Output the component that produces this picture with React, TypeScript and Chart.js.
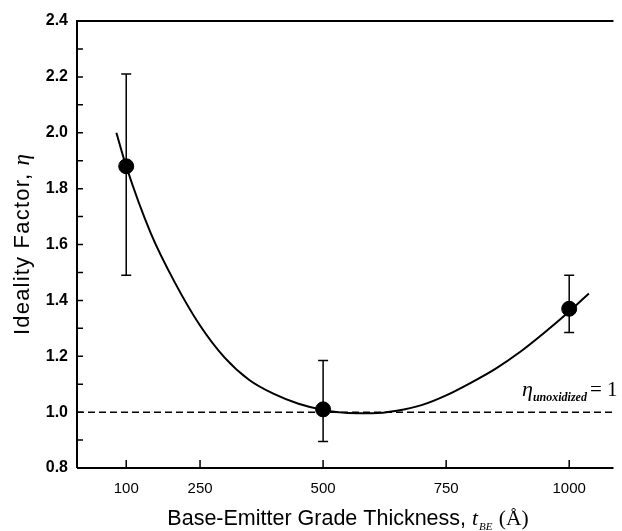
import React, { useEffect, useRef } from "react";
import { Chart, registerables } from "chart.js";

Chart.register(...registerables);

// Measured data points with error bars
const pointX = [100, 500, 1000];
const pointY = [1.88, 1.01, 1.37];
const errLow = [1.49, 0.895, 1.285];
const errHigh = [2.21, 1.185, 1.49];

// Fitted curve
const curveX = [80, 100, 150, 200, 250, 300, 350, 400, 450, 500, 550, 600, 650, 700, 750, 800, 850, 900, 950, 1000, 1040];
const curveY = [2.0, 1.88, 1.64, 1.46, 1.31, 1.195, 1.115, 1.065, 1.03, 1.008, 0.997, 0.996, 1.005, 1.025, 1.06, 1.105, 1.155, 1.215, 1.285, 1.36, 1.425];

// Reference line and ticks
const refLevel = 1.0;
const xTickValues = [100, 250, 500, 750, 1000];
const xRange = [0, 1090];
const yRange = [0.8, 2.4];

const SANS = "'Liberation Sans', Arial, Helvetica, sans-serif";
const SERIF = "'Liberation Serif', 'Times New Roman', serif";

const decorPlugin = {
  id: "decor",
  beforeDraw(chart: any) {
    const { ctx } = chart;
    ctx.save();
    ctx.fillStyle = "#fff";
    ctx.fillRect(0, 0, chart.width, chart.height);
    ctx.restore();
  },
  afterDatasetsDraw(chart: any) {
    const { ctx, scales } = chart;
    const xs = scales.x;
    const ys = scales.y;
    ctx.save();
    ctx.strokeStyle = "#000";
    ctx.lineWidth = 1.5;
    for (let i = 0; i < pointX.length; i++) {
      const px = xs.getPixelForValue(pointX[i]);
      const lo = ys.getPixelForValue(errLow[i]);
      const hi = ys.getPixelForValue(errHigh[i]);
      ctx.beginPath();
      ctx.moveTo(px, lo);
      ctx.lineTo(px, hi);
      ctx.moveTo(px - 5, lo);
      ctx.lineTo(px + 5, lo);
      ctx.moveTo(px - 5, hi);
      ctx.lineTo(px + 5, hi);
      ctx.stroke();
    }
    ctx.restore();
  },
  afterDraw(chart: any) {
    const { ctx, chartArea, scales } = chart;
    const xs = scales.x;
    const ys = scales.y;
    ctx.save();
    ctx.strokeStyle = "#000";
    ctx.lineWidth = 2;
    ctx.beginPath();
    ctx.moveTo(chartArea.left, chartArea.bottom);
    ctx.lineTo(chartArea.left, chartArea.top);
    ctx.lineTo(chartArea.right, chartArea.top);
    ctx.moveTo(chartArea.left, chartArea.bottom);
    ctx.lineTo(chartArea.right, chartArea.bottom);
    ctx.stroke();
    ctx.lineWidth = 1.5;
    ctx.beginPath();
    ys.ticks.forEach((t: any) => {
      const py = ys.getPixelForValue(t.value);
      ctx.moveTo(chartArea.left, py);
      ctx.lineTo(chartArea.left + 6, py);
    });
    xs.ticks.forEach((t: any) => {
      const px = xs.getPixelForValue(t.value);
      ctx.moveTo(px, chartArea.bottom);
      ctx.lineTo(px, chartArea.bottom - 8);
    });
    ctx.stroke();

    ctx.fillStyle = "#000";
    ctx.textBaseline = "alphabetic";
    ctx.textAlign = "left";
    // x title
    const p1 = "Base-Emitter Grade Thickness, ";
    const p2 = "t";
    const p3 = "BE";
    const p4 = " (\u00C5)";
    const f1 = `21.5px ${SANS}`;
    const f2 = `italic 21.5px ${SERIF}`;
    const f3 = `italic 11px ${SERIF}`;
    const f4 = `21.5px ${SERIF}`;
    ctx.font = f1; const w1 = ctx.measureText(p1).width;
    ctx.font = f2; const w2 = ctx.measureText(p2).width;
    ctx.font = f3; const w3 = ctx.measureText(p3).width;
    ctx.font = f4; const w4 = ctx.measureText(p4).width;
    const total = w1 + w2 + w3 + 2 + w4;
    let x0 = 348 - total / 2;
    const by = 525;
    ctx.font = f1; ctx.fillText(p1, x0, by); x0 += w1;
    ctx.font = f2; ctx.fillText(p2, x0, by); x0 += w2 + 1;
    ctx.font = f3; ctx.fillText(p3, x0, by + 5); x0 += w3 + 1;
    ctx.font = f4; ctx.fillText(p4, x0, by);

    // y title
    const q1 = "Ideality Factor, ";
    const q2 = "\u03B7";
    const g1 = `22px ${SANS}`;
    const g2 = `italic 23px ${SERIF}`;
    ctx.save();
    (ctx as any).letterSpacing = "1.2px";
    ctx.font = g1; const v1 = ctx.measureText(q1).width;
    (ctx as any).letterSpacing = "0px";
    ctx.font = g2; const v2 = ctx.measureText(q2).width;
    ctx.translate(29, (chartArea.top + chartArea.bottom) / 2);
    ctx.rotate(-Math.PI / 2);
    let yx = -(v1 + v2) / 2;
    (ctx as any).letterSpacing = "1.2px";
    ctx.font = g1; ctx.fillText(q1, yx, 0); yx += v1;
    (ctx as any).letterSpacing = "0px";
    ctx.font = g2; ctx.fillText(q2, yx, 0);
    ctx.restore();

    // annotation
    const ay = ys.getPixelForValue(refLevel) - 16;
    let ax = 522;
    ctx.font = `italic 22px ${SERIF}`;
    ctx.fillText("\u03B7", ax, ay);
    ax += ctx.measureText("\u03B7").width;
    ctx.font = `italic bold 12px ${SERIF}`;
    ctx.fillText("unoxidized", ax, ay + 5);
    ax += ctx.measureText("unoxidized").width + 3;
    ctx.font = `21px ${SERIF}`;
    ctx.fillText("= 1", ax, ay);
    ctx.restore();
  },
};

export default function App() {
  const ref = useRef<HTMLCanvasElement | null>(null);
  useEffect(() => {
    if (!ref.current) return;
    const chart = new Chart(ref.current, {
      type: "scatter",
      data: {
        datasets: [
          {
            type: "line",
            data: [
              { x: xRange[0], y: refLevel },
              { x: xRange[1], y: refLevel },
            ],
            borderColor: "#000",
            borderWidth: 1.5,
            borderDash: [7, 4],
            pointRadius: 0,
            fill: false,
          },
          {
            type: "line",
            data: curveX.map((x, i) => ({ x, y: curveY[i] })),
            borderColor: "#000",
            borderWidth: 2,
            pointRadius: 0,
            cubicInterpolationMode: "monotone",
            fill: false,
          },
          {
            type: "scatter",
            data: pointX.map((x, i) => ({ x, y: pointY[i] })),
            backgroundColor: "#000",
            borderColor: "#000",
            pointRadius: 7.5,
            pointHoverRadius: 7.5,
          },
        ],
      } as any,
      options: {
        animation: false,
        responsive: false,
        events: [],
        layout: { padding: { top: 21, right: 1, left: 0, bottom: 0 } },
        plugins: {
          legend: { display: false },
          tooltip: { enabled: false },
        },
        scales: {
          x: {
            type: "linear",
            min: xRange[0],
            max: xRange[1],
            grid: { display: false, drawTicks: false },
            border: { display: false },
            afterBuildTicks: (scale: any) => {
              scale.ticks = xTickValues.map((v) => ({ value: v }));
            },
            afterFit: (scale: any) => {
              scale.height = 63;
            },
            ticks: {
              padding: 12,
              color: "#000",
              font: { family: SANS, size: 15 },
              callback: (v: any) => String(v),
            },
          },
          y: {
            type: "linear",
            min: yRange[0],
            max: yRange[1],
            grid: { display: false, drawTicks: false },
            border: { display: false },
            afterFit: (scale: any) => {
              scale.width = 77;
            },
            ticks: {
              stepSize: 0.1,
              padding: 9,
              color: "#000",
              font: { family: SANS, size: 16, weight: "bold" },
              callback: (v: any) => {
                const n = Math.round(Number(v) * 10);
                return n % 2 === 0 ? (n / 10).toFixed(1) : "";
              },
            },
          },
        },
      } as any,
      plugins: [decorPlugin],
    });
    return () => chart.destroy();
  }, []);
  return (
    <div style={{ position: "absolute", left: 0, top: 0, width: 622, height: 531, background: "#fff" }}>
      <canvas ref={ref} width={622} height={531} style={{ display: "block" }} />
    </div>
  );
}
